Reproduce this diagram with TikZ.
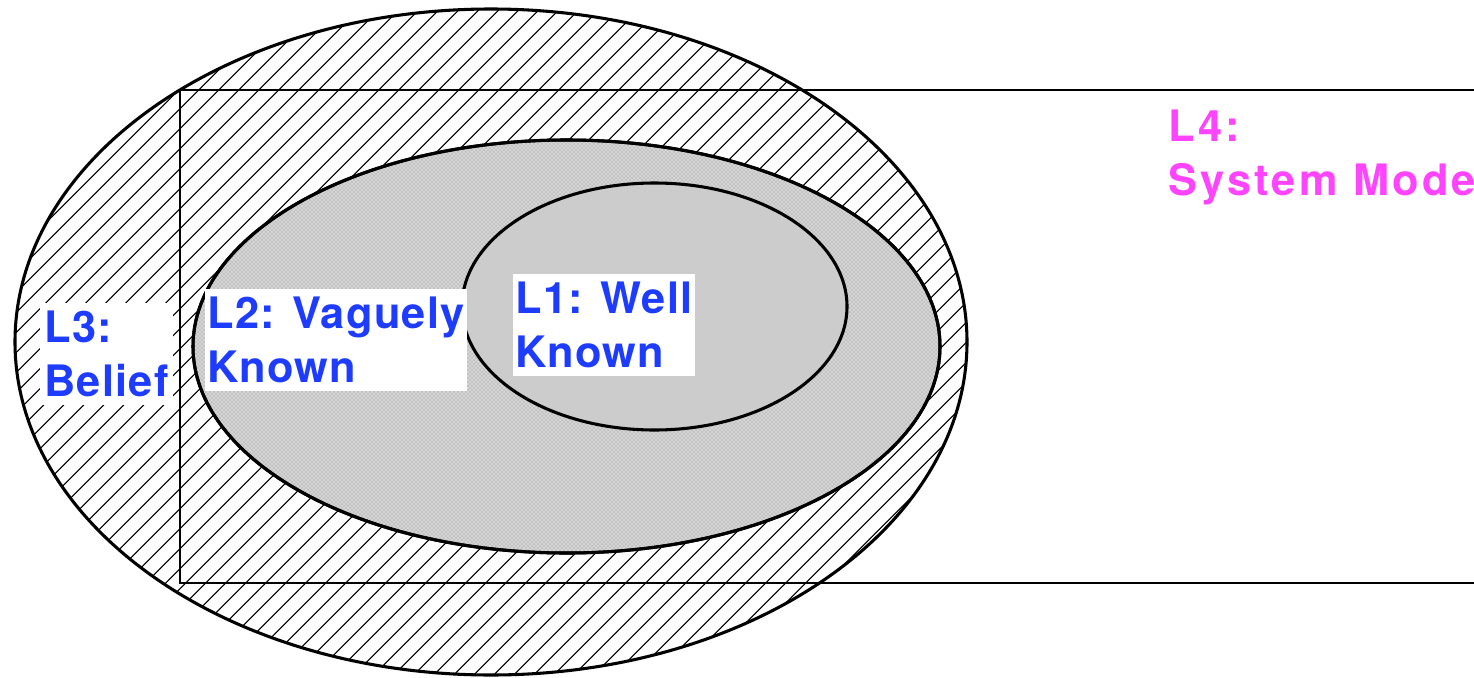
\documentclass[tikz,border=0pt]{standalone}
\usepackage{fontspec}
\setmainfont{TeX Gyre Heros}
\usetikzlibrary{shapes.geometric,patterns,patterns.meta}
\definecolor{lblue}{HTML}{1E3CFF}
\definecolor{lmag}{HTML}{FF44FF}
\definecolor{innergray}{HTML}{CCCCCC}
\tikzset{
  region/.style={ellipse, inner sep=0pt, draw=black, line width=2.3pt},
  hatched/.style={pattern={Lines[angle=45,distance=10.5pt,line width=0.9pt]}, pattern color=black},
  label/.style={anchor=north west, align=left, font=\fontsize{32.5}{40.5}\selectfont\bfseries\addfontfeature{LetterSpace=3}},
  boxed/.style={label, fill=white, inner xsep=1.5pt, inner ysep=6pt}
}
\begin{document}
\begin{tikzpicture}[x=0.75pt,y=-0.75pt]
\useasboundingbox (0,0) rectangle (1474,678);
% outer ellipse (L3)
\node[region, hatched, minimum width=714pt, minimum height=499.5pt] (outer) at (491,342) {};
% rectangle (L4 system model)
\coordinate (rtl) at (180,90);
\coordinate (rbr) at (1490,583);
\draw[line width=1.9pt] (rtl) rectangle (rbr);
% middle ellipse (L2)
\node[region, fill=black!16, minimum width=560.25pt, minimum height=309.75pt] (mid) at (566.5,346.5) {};
\fill[pattern=crosshatch dots, pattern color=black!50] (mid.center) ellipse [x radius=280pt, y radius=154.5pt];
\node[region, minimum width=560.25pt, minimum height=309.75pt] at (mid.center) {};
% inner ellipse (L1)
\node[region, fill=innergray, minimum width=288.75pt, minimum height=185.25pt] (inner) at (654.5,306.5) {};
% labels
\node[boxed, text=lblue, inner xsep=3pt] (l3) at (40,303) {L3:\\Belief};
\node[boxed, text=lblue] (l2) at (205,289) {L2: Vaguely\\Known};
\node[boxed, text=lblue] (l1) at (513,274) {L1: Well\\Known};
\node[label, text=lmag, inner xsep=0pt, inner ysep=0pt, font=\fontsize{32.5}{40.5}\selectfont\bfseries\addfontfeature{LetterSpace=7.5}] (l4) at (1168,110) {L4:\\System Model};
\end{tikzpicture}
\end{document}
